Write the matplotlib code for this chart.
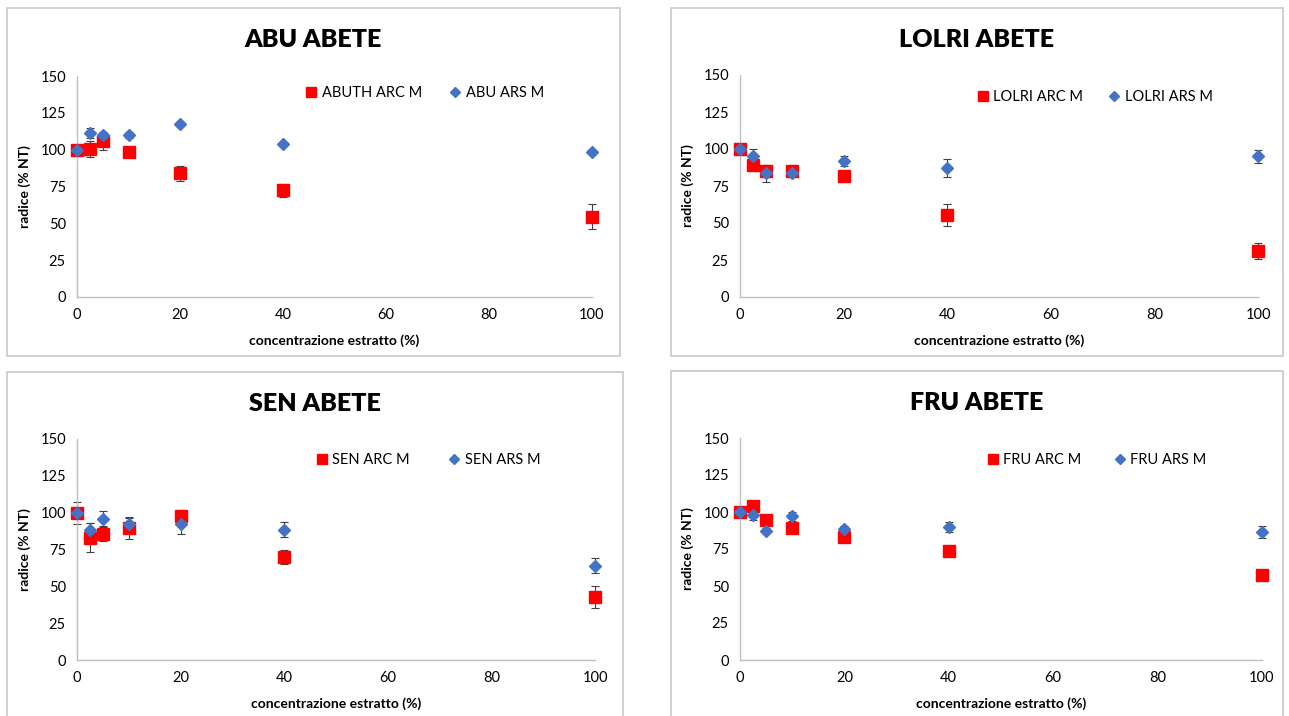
import matplotlib
matplotlib.use('Agg')
import matplotlib.pyplot as plt
from matplotlib.patches import Rectangle

plt.rcParams['font.family'] = ['Lato', 'DejaVu Sans']

# concentrazione estratto (%)
conc = [0, 2.5, 5, 10, 20, 40, 100]

# ABU ABETE
abu_arc = [100, 100.5, 106, 98.5, 84, 72.5, 54.5]
abu_arc_err = [1, 5.5, 6, 3, 5, 4.5, 8.5]
abu_ars = [100, 111.5, 110, 110, 117.5, 104, 98.5]
abu_ars_err = [1, 3.5, 1.5, 2, 1.5, 0.5, 1]

# LOLRI ABETE
lolri_arc = [100, 89.5, 85, 85, 81.5, 55.5, 31]
lolri_arc_err = [1, 4.5, 4, 4, 2, 7.5, 5.5]
lolri_ars = [100, 95.5, 83.5, 84, 92, 87, 95]
lolri_ars_err = [1, 4.5, 6, 3, 3.5, 6, 4.5]

# SEN ABETE
sen_arc = [100, 83, 85.5, 89.5, 98, 70, 43]
sen_arc_err = [7.5, 10, 4.5, 7.5, 2.5, 5, 7.5]
sen_ars = [100, 88.5, 96, 92, 92, 88.5, 64]
sen_ars_err = [1, 4.5, 5, 4.5, 6.5, 5, 5]

# FRU ABETE
fru_arc = [100, 104, 94.5, 89.5, 83, 73.5, 57.5]
fru_arc_err = [1, 2, 1, 1, 1, 1, 1]
fru_ars = [100, 98, 87.5, 97, 88.5, 90, 86.5]
fru_ars_err = [1, 3.5, 2, 3, 2, 3.5, 4]

W, H = 1289, 716
fig = plt.figure(figsize=(W / 100, H / 100), dpi=100)

def px(x0, y0, x1, y1):
    # pixel box -> figure fraction [left, bottom, width, height]
    return [x0 / W, 1 - y1 / H, (x1 - x0) / W, (y1 - y0) / H]

panels = [
    dict(title='ABU ABETE', arc=abu_arc, arc_err=abu_arc_err, ars=abu_ars, ars_err=abu_ars_err,
         lab1='ABUTH ARC M', lab2='ABU ARS M',
         box=(7, 8, 620, 356), ax=(77, 76, 592, 297), leg=(0.675, 1.015), cs=1.9),
    dict(title='LOLRI ABETE', arc=lolri_arc, arc_err=lolri_arc_err, ars=lolri_ars, ars_err=lolri_ars_err,
         lab1='LOLRI ARC M', lab2='LOLRI ARS M',
         box=(671, 8, 1283, 356), ax=(740, 75, 1258, 297), leg=(0.685, 0.99), cs=1.76),
    dict(title='SEN ABETE', arc=sen_arc, arc_err=sen_arc_err, ars=sen_ars, ars_err=sen_ars_err,
         lab1='SEN ARC M', lab2='SEN ARS M',
         box=(7, 372, 623, 720), ax=(77, 439, 595, 660), leg=(0.678, 0.995), cs=2.65),
    dict(title='FRU ABETE', arc=fru_arc, arc_err=fru_arc_err, ars=fru_ars, ars_err=fru_ars_err,
         lab1='FRU ARC M', lab2='FRU ARS M',
         box=(671, 371, 1283, 720), ax=(740, 438, 1262, 660), leg=(0.683, 0.99), cs=2.24),
]

for p in panels:
    bx = p['box']
    r = px(*bx)
    fig.patches.append(Rectangle(r[:2], r[2], r[3], transform=fig.transFigure,
                                 facecolor='none', edgecolor='#c8c8c8', lw=1.2, zorder=-1))
    ax = fig.add_axes(px(*p['ax']))
    ax.set_facecolor('none')

    ax.errorbar(conc, p['arc'], yerr=p['arc_err'], fmt='none', ecolor='#404040',
                elinewidth=0.8, capsize=3, capthick=0.8, clip_on=False, zorder=2)
    ax.errorbar(conc, p['ars'], yerr=p['ars_err'], fmt='none', ecolor='#404040',
                elinewidth=0.8, capsize=3, capthick=0.8, clip_on=False, zorder=2)
    ax.plot(conc, p['arc'], ls='none', marker='s', ms=8.5, color='#ff0000',
            mec='#ff0000', label=p['lab1'], clip_on=False, zorder=3)
    ax.plot(conc, p['ars'], ls='none', marker='D', ms=5.8, color='#4472c4',
            mec='#4472c4', label=p['lab2'], clip_on=False, zorder=4)

    ax.set_xlim(0, 100)
    ax.set_ylim(0, 150)
    ax.set_xticks([0, 20, 40, 60, 80, 100])
    ax.set_yticks([0, 25, 50, 75, 100, 125, 150])
    ax.tick_params(length=0, labelsize=10.5, colors='black', pad=8)
    for s in ['top', 'right']:
        ax.spines[s].set_visible(False)
    for s in ['left', 'bottom']:
        ax.spines[s].set_color('#bfbfbf')
        ax.spines[s].set_linewidth(1)

    ax.set_xlabel('concentrazione estratto (%)', fontsize=10, fontweight='bold', labelpad=9)
    ax.set_ylabel('radice (% NT)', fontsize=10, fontweight='bold', labelpad=7)

    ax.legend(loc='upper center', bbox_to_anchor=p['leg'], ncol=2, frameon=False,
              fontsize=10.5, handlelength=0.8, handletextpad=0.3, columnspacing=p['cs'],
              markerscale=0.85)

    cx = (bx[0] + bx[2]) / 2 / W
    ty = 1 - (bx[1] + 32) / H
    fig.text(cx, ty, p['title'], ha='center', va='center', fontsize=18, fontweight='heavy')

fig.savefig('out.png', dpi=100, facecolor='white')
